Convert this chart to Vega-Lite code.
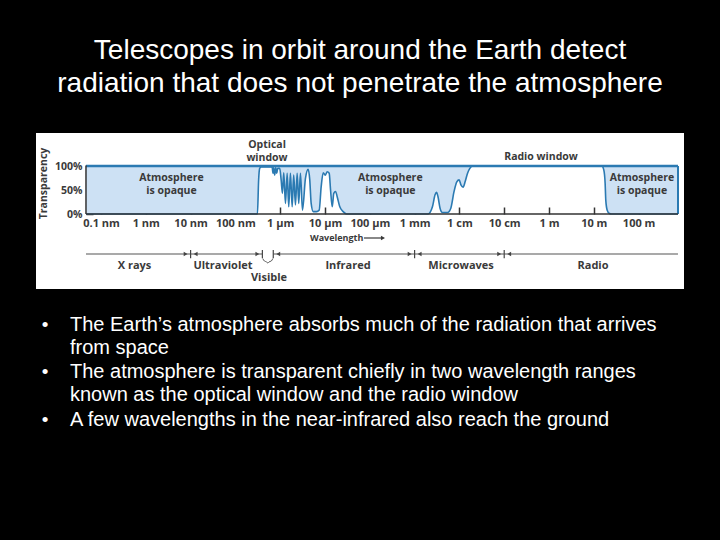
{
  "$schema": "https://vega.github.io/schema/vega-lite/v6.json",
  "background": "black",
  "padding": {"top": 37, "left": 36, "right": 36, "bottom": 0},
  "title": {
    "text": ["Telescopes in orbit around the Earth detect", "radiation that does not penetrate the atmosphere"],
    "color": "white", "font": "Liberation Sans", "fontSize": 28, "fontWeight": "normal",
    "lineHeight": 33, "anchor": "middle", "offset": 35, "frame": "group"
  },
  "spacing": 0,
  "config": {"view": {"stroke": null}},
  "datasets": {
    "curve": [
      {"wavelength_m": 4.62e-11, "transparency": 0},
      {"wavelength_m": 3.1e-7, "transparency": 0},
      {"wavelength_m": 3.3e-7, "transparency": 71},
      {"wavelength_m": 3.48e-7, "transparency": 95},
      {"wavelength_m": 3.74e-7, "transparency": 98},
      {"wavelength_m": 6.59e-7, "transparency": 98},
      {"wavelength_m": 6.93e-7, "transparency": 85},
      {"wavelength_m": 7.16e-7, "transparency": 97},
      {"wavelength_m": 7.53e-7, "transparency": 81},
      {"wavelength_m": 7.93e-7, "transparency": 97},
      {"wavelength_m": 8.36e-7, "transparency": 85},
      {"wavelength_m": 8.79e-7, "transparency": 95},
      {"wavelength_m": 9.75e-7, "transparency": 95},
      {"wavelength_m": 1.05e-6, "transparency": 71},
      {"wavelength_m": 1.12e-6, "transparency": 43},
      {"wavelength_m": 1.2e-6, "transparency": 86},
      {"wavelength_m": 1.31e-6, "transparency": 22},
      {"wavelength_m": 1.43e-6, "transparency": 85},
      {"wavelength_m": 1.55e-6, "transparency": 15},
      {"wavelength_m": 1.69e-6, "transparency": 85},
      {"wavelength_m": 1.85e-6, "transparency": 15},
      {"wavelength_m": 2.0e-6, "transparency": 81},
      {"wavelength_m": 2.19e-6, "transparency": 19},
      {"wavelength_m": 2.39e-6, "transparency": 85},
      {"wavelength_m": 2.59e-6, "transparency": 22},
      {"wavelength_m": 2.83e-6, "transparency": 85},
      {"wavelength_m": 3.14e-6, "transparency": 8},
      {"wavelength_m": 3.66e-6, "transparency": 74},
      {"wavelength_m": 4.21e-6, "transparency": 93},
      {"wavelength_m": 4.57e-6, "transparency": 71},
      {"wavelength_m": 4.91e-6, "transparency": 22},
      {"wavelength_m": 5.45e-6, "transparency": 5},
      {"wavelength_m": 6.46e-6, "transparency": 5},
      {"wavelength_m": 7.41e-6, "transparency": 8},
      {"wavelength_m": 8.22e-6, "transparency": 57},
      {"wavelength_m": 9.12e-6, "transparency": 86},
      {"wavelength_m": 1.01e-5, "transparency": 81},
      {"wavelength_m": 1.12e-5, "transparency": 88},
      {"wavelength_m": 1.24e-5, "transparency": 85},
      {"wavelength_m": 1.33e-5, "transparency": 50},
      {"wavelength_m": 1.45e-5, "transparency": 15},
      {"wavelength_m": 1.57e-5, "transparency": 43},
      {"wavelength_m": 1.72e-5, "transparency": 47},
      {"wavelength_m": 1.87e-5, "transparency": 36},
      {"wavelength_m": 2.14e-5, "transparency": 15},
      {"wavelength_m": 2.54e-5, "transparency": 5},
      {"wavelength_m": 3.03e-5, "transparency": 0},
      {"wavelength_m": 2.0e-3, "transparency": 0},
      {"wavelength_m": 2.5e-3, "transparency": 15},
      {"wavelength_m": 2.86e-3, "transparency": 40},
      {"wavelength_m": 3.08e-3, "transparency": 45},
      {"wavelength_m": 3.33e-3, "transparency": 36},
      {"wavelength_m": 3.7e-3, "transparency": 12},
      {"wavelength_m": 4.19e-3, "transparency": 3},
      {"wavelength_m": 5.42e-3, "transparency": 3},
      {"wavelength_m": 6.43e-3, "transparency": 12},
      {"wavelength_m": 7.6e-3, "transparency": 47},
      {"wavelength_m": 8.75e-3, "transparency": 67},
      {"wavelength_m": 9.84e-3, "transparency": 71},
      {"wavelength_m": 1.09e-2, "transparency": 60},
      {"wavelength_m": 1.21e-2, "transparency": 56},
      {"wavelength_m": 1.34e-2, "transparency": 67},
      {"wavelength_m": 1.52e-2, "transparency": 85},
      {"wavelength_m": 1.71e-2, "transparency": 95},
      {"wavelength_m": 1.96e-2, "transparency": 100},
      {"wavelength_m": 15.1, "transparency": 100},
      {"wavelength_m": 16.7, "transparency": 92},
      {"wavelength_m": 17.9, "transparency": 64},
      {"wavelength_m": 18.5, "transparency": 29},
      {"wavelength_m": 19.9, "transparency": 8},
      {"wavelength_m": 22.3, "transparency": 1},
      {"wavelength_m": 25, "transparency": 0},
      {"wavelength_m": 757, "transparency": 0}
    ],
    "frame": [{"start_m": 4.62e-11, "end_m": 757}],
    "opaque_labels": [
      {"label": "Atmosphere\nis opaque", "wavelength_m": 3.75e-9},
      {"label": "Atmosphere\nis opaque", "wavelength_m": 2.87e-4},
      {"label": "Atmosphere\nis opaque", "wavelength_m": 119}
    ],
    "optical_window": [{"label": "Optical\nwindow", "wavelength_m": 5.07e-7}],
    "radio_window": [{"label": "Radio window", "wavelength_m": 0.662}],
    "bands": [
      {"band": "X rays", "start_m": 4.62e-11, "end_m": 1e-8, "label_m": 5.6e-10},
      {"band": "Ultraviolet", "start_m": 1e-8, "end_m": 4e-7, "label_m": 5.28e-8},
      {"band": "Infrared", "start_m": 7e-7, "end_m": 1e-3, "label_m": 3.26e-5},
      {"band": "Microwaves", "start_m": 1e-3, "end_m": 0.1, "label_m": 1.09e-2},
      {"band": "Radio", "start_m": 0.1, "end_m": 757, "label_m": 9.6}
    ],
    "visible": [{"band": "Visible", "label_m": 5.62e-7}],
    "boundaries": [
      {"wavelength_m": 1e-8}, {"wavelength_m": 4e-7}, {"wavelength_m": 7e-7},
      {"wavelength_m": 1e-3}, {"wavelength_m": 0.1}
    ],
    "heads_right": [
      {"wavelength_m": 1e-8}, {"wavelength_m": 4e-7}, {"wavelength_m": 1e-3}, {"wavelength_m": 0.1}
    ],
    "heads_left": [
      {"wavelength_m": 1e-8}, {"wavelength_m": 7e-7}, {"wavelength_m": 1e-3}, {"wavelength_m": 0.1}
    ],
    "brace": [
      {"wavelength_m": 4.1e-7, "level": -93},
      {"wavelength_m": 4.4e-7, "level": -99},
      {"wavelength_m": 5.05e-7, "level": -99},
      {"wavelength_m": 5.29e-7, "level": -104},
      {"wavelength_m": 5.55e-7, "level": -99},
      {"wavelength_m": 6.4e-7, "level": -99},
      {"wavelength_m": 6.8e-7, "level": -93}
    ],
    "wavelength_note": [{"label": "Wavelength", "wavelength_m": 4.62e-6, "arrow_start_m": 7.43e-5, "arrow_end_m": 1.97e-4}],
    "bullets": [
      {"item": 1, "text": "The Earth’s atmosphere absorbs much of the radiation that arrives\nfrom space"},
      {"item": 2, "text": "The atmosphere is transparent chiefly in two wavelength ranges\nknown as the optical window and the radio window"},
      {"item": 3, "text": "A few wavelengths in the near-infrared also reach the ground"}
    ]
  },
  "vconcat": [
    {
      "width": 648,
      "height": 156,
      "view": {"fill": "white", "stroke": null},
      "layer": [
        {
          "data": {"name": "curve"},
          "mark": {"type": "area", "fill": "#cde1f4", "interpolate": "monotone"},
          "encoding": {
            "x": {
              "field": "wavelength_m", "type": "quantitative",
              "scale": {"type": "log", "domain": [3.54e-12, 1031], "nice": false},
              "axis": {
                "orient": "bottom", "offset": -75, "title": null, "grid": false, "domain": false,
                "values": [1e-10, 1e-9, 1e-8, 1e-7, 1e-6, 1e-5, 1e-4, 1e-3, 1e-2, 1e-1, 1, 10, 100],
                "labelExpr": "['0.1 nm','1 nm','10 nm','100 nm','1 μm','10 μm','100 μm','1 mm','1 cm','10 cm','1 m','10 m','100 m'][round(log(datum.value)/LN10)+10]",
                "tickSize": -7, "tickWidth": 1.5, "tickColor": "#333333",
                "labelFont": "Open Sans", "labelFontWeight": "bold", "labelFontSize": 11, "labelColor": "#3a3a3a",
                "labelPadding": 10, "labelFlush": false, "labelOverlap": false, "labelBound": false
              }
            },
            "y": {
              "field": "transparency", "type": "quantitative",
              "scale": {"domain": [-156.25, 168.75], "nice": false, "zero": false},
              "axis": {
                "orient": "left", "offset": -50, "grid": false, "domain": false,
                "values": [0, 50, 100], "labelExpr": "datum.value + '%'",
                "tickSize": -7, "tickWidth": 1.5, "tickColor": "#333333",
                "labelFont": "Open Sans", "labelFontWeight": "bold", "labelFontSize": 10.5, "labelColor": "#3a3a3a",
                "labelPadding": 11, "labelOverlap": false, "labelBound": false, "labelFlush": false,
                "title": "Transparency", "titleFont": "Open Sans", "titleFontWeight": "bold", "titleFontSize": 10.5,
                "titleColor": "#3a3a3a", "titleX": -43, "titleY": 50, "titleAngle": -90, "titleAlign": "center", "titleBaseline": "middle"
              }
            },
            "y2": {"datum": 100}
          }
        },
        {
          "data": {"name": "curve"},
          "mark": {"type": "line", "stroke": "#2b7ab2", "strokeWidth": 1.6, "interpolate": "monotone"},
          "encoding": {
            "x": {"field": "wavelength_m", "type": "quantitative"},
            "y": {"field": "transparency", "type": "quantitative"}
          }
        },
        {
          "data": {"name": "frame"},
          "mark": {"type": "rule", "stroke": "#2b7ab2", "strokeWidth": 2.5},
          "encoding": {"x": {"field": "start_m", "type": "quantitative"}, "x2": {"field": "end_m"}, "y": {"datum": 100}}
        },
        {
          "data": {"name": "frame"},
          "mark": {"type": "rule", "stroke": "#2b7ab2", "strokeWidth": 2},
          "encoding": {"x": {"field": "end_m", "type": "quantitative"}, "y": {"datum": 0}, "y2": {"datum": 100}}
        },
        {
          "data": {"name": "frame"},
          "mark": {"type": "rule", "stroke": "#333333", "strokeWidth": 1.5},
          "encoding": {"x": {"field": "start_m", "type": "quantitative"}, "x2": {"field": "end_m"}, "y": {"datum": 0}}
        },
        {
          "data": {"name": "frame"},
          "mark": {"type": "rule", "stroke": "#333333", "strokeWidth": 1.5},
          "encoding": {"x": {"field": "start_m", "type": "quantitative"}, "y": {"datum": 0}, "y2": {"datum": 101}}
        },
        {
          "data": {"name": "opaque_labels"},
          "mark": {"type": "text", "font": "Open Sans", "fontWeight": "bold", "fontSize": 10.5, "color": "#3a3a3a", "align": "center", "baseline": "middle", "lineBreak": "\n", "lineHeight": 13},
          "encoding": {"x": {"field": "wavelength_m", "type": "quantitative"}, "y": {"datum": 75}, "text": {"field": "label"}}
        },
        {
          "data": {"name": "optical_window"},
          "mark": {"type": "text", "font": "Open Sans", "fontWeight": "bold", "fontSize": 10.5, "color": "#3a3a3a", "align": "center", "baseline": "middle", "lineBreak": "\n", "lineHeight": 13},
          "encoding": {"x": {"field": "wavelength_m", "type": "quantitative"}, "y": {"datum": 143.75}, "text": {"field": "label"}}
        },
        {
          "data": {"name": "radio_window"},
          "mark": {"type": "text", "font": "Open Sans", "fontWeight": "bold", "fontSize": 10.5, "color": "#3a3a3a", "align": "center", "baseline": "middle"},
          "encoding": {"x": {"field": "wavelength_m", "type": "quantitative"}, "y": {"datum": 118.75}, "text": {"field": "label"}}
        },
        {
          "data": {"name": "wavelength_note"},
          "mark": {"type": "text", "font": "Open Sans", "fontWeight": "bold", "fontSize": 9, "color": "#3a3a3a", "align": "left", "baseline": "middle"},
          "encoding": {"x": {"field": "wavelength_m", "type": "quantitative"}, "y": {"datum": -50}, "text": {"field": "label"}}
        },
        {
          "data": {"name": "wavelength_note"},
          "mark": {"type": "rule", "stroke": "#3a3a3a", "strokeWidth": 1.2},
          "encoding": {"x": {"field": "arrow_start_m", "type": "quantitative"}, "x2": {"field": "arrow_end_m"}, "y": {"datum": -50}}
        },
        {
          "data": {"name": "wavelength_note"},
          "mark": {"type": "point", "shape": "triangle-right", "filled": true, "color": "#3a3a3a", "size": 22, "opacity": 1},
          "encoding": {"x": {"field": "arrow_end_m", "type": "quantitative"}, "y": {"datum": -50}}
        },
        {
          "data": {"name": "bands"},
          "mark": {"type": "rule", "stroke": "#555555", "strokeWidth": 1.2},
          "encoding": {"x": {"field": "start_m", "type": "quantitative"}, "x2": {"field": "end_m"}, "y": {"datum": -83.3}}
        },
        {
          "data": {"name": "boundaries"},
          "mark": {"type": "rule", "stroke": "#444444", "strokeWidth": 1.2},
          "encoding": {"x": {"field": "wavelength_m", "type": "quantitative"}, "y": {"datum": -75}, "y2": {"datum": -92}}
        },
        {
          "data": {"name": "heads_right"},
          "mark": {"type": "point", "shape": "triangle-right", "filled": true, "color": "#444444", "size": 20, "opacity": 1, "xOffset": -5},
          "encoding": {"x": {"field": "wavelength_m", "type": "quantitative"}, "y": {"datum": -83.3}}
        },
        {
          "data": {"name": "heads_left"},
          "mark": {"type": "point", "shape": "triangle-left", "filled": true, "color": "#444444", "size": 20, "opacity": 1, "xOffset": 5},
          "encoding": {"x": {"field": "wavelength_m", "type": "quantitative"}, "y": {"datum": -83.3}}
        },
        {
          "data": {"name": "brace"},
          "mark": {"type": "line", "stroke": "#555555", "strokeWidth": 1, "interpolate": "basis"},
          "encoding": {"x": {"field": "wavelength_m", "type": "quantitative"}, "y": {"field": "level", "type": "quantitative"}}
        },
        {
          "data": {"name": "bands"},
          "mark": {"type": "text", "font": "Open Sans", "fontWeight": "bold", "fontSize": 11, "color": "#3a3a3a", "align": "center", "baseline": "middle"},
          "encoding": {"x": {"field": "label_m", "type": "quantitative"}, "y": {"datum": -108.3}, "text": {"field": "band"}}
        },
        {
          "data": {"name": "visible"},
          "mark": {"type": "text", "font": "Open Sans", "fontWeight": "bold", "fontSize": 11, "color": "#3a3a3a", "align": "center", "baseline": "middle"},
          "encoding": {"x": {"field": "label_m", "type": "quantitative"}, "y": {"datum": -133.3}, "text": {"field": "band"}}
        }
      ]
    },
    {
      "width": 648,
      "height": 251,
      "data": {"name": "bullets"},
      "encoding": {
        "y": {"field": "item", "type": "quantitative", "scale": {"domain": [0.126, 5.41], "reverse": true, "nice": false, "zero": false}, "axis": null}
      },
      "layer": [
        {
          "mark": {"type": "text", "align": "center", "baseline": "alphabetic", "x": 9, "font": "Liberation Sans", "fontSize": 19, "color": "white"},
          "encoding": {"text": {"value": "•"}}
        },
        {
          "mark": {"type": "text", "align": "left", "baseline": "alphabetic", "x": 34, "font": "Liberation Sans", "fontSize": 20, "color": "white", "lineBreak": "\n", "lineHeight": 23},
          "encoding": {"text": {"field": "text"}}
        }
      ]
    }
  ]
}
